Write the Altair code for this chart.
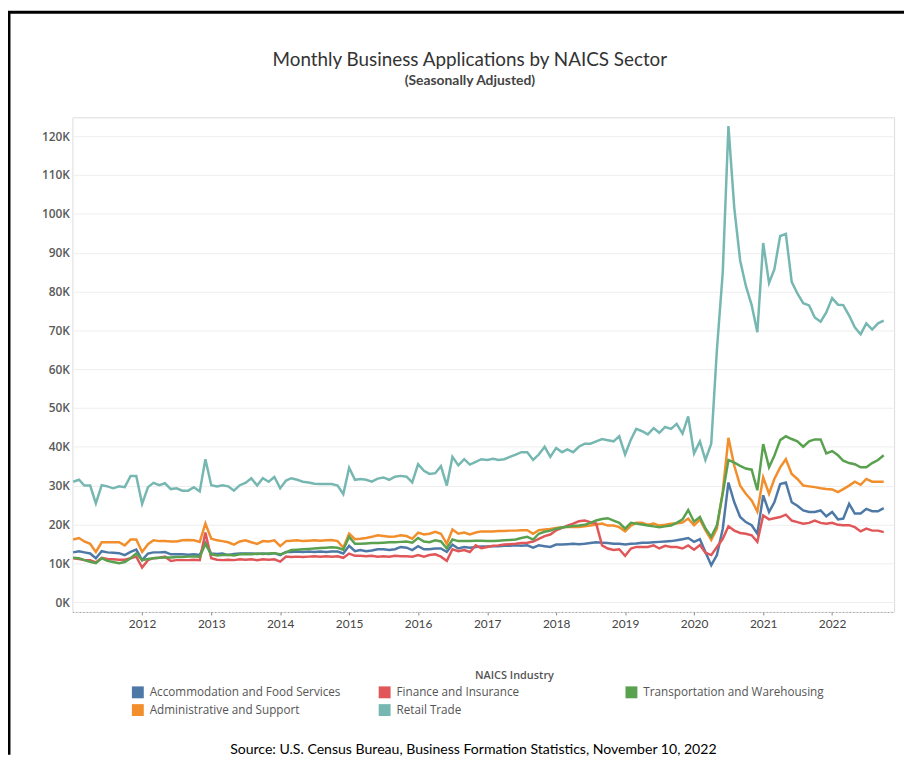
import altair as alt
import pandas as pd

# ---------------- data (thousands of applications, monthly, Jan 2011 - Oct 2022) ----------------
months = pd.date_range("2011-01-01", periods=142, freq="MS")

accommodation = [
    12.8, 13.1, 12.8, 12.5, 11.3, 13.1, 12.8, 12.7, 12.6, 12.1, 12.9, 13.5,
    10.8, 12.5, 12.8, 12.8, 12.9, 12.3, 12.3, 12.3, 12.2, 12.3, 12.1, 15.3,
    12.5, 12.4, 12.5, 12.1, 12.4, 12.5, 12.5, 12.5, 12.4, 12.5, 12.4, 12.6,
    12.1, 12.9, 12.9, 13.0, 12.9, 13.0, 12.9, 13.0, 12.9, 13.0, 13.0, 12.5,
    14.5, 13.1, 13.4, 13.1, 13.3, 13.6, 13.6, 13.4, 13.6, 14.2, 14.0, 13.4,
    14.4, 13.6, 13.6, 13.8, 13.8, 12.9, 14.8, 13.8, 14.2, 14.0, 14.2, 14.3,
    14.3, 14.4, 14.4, 14.5, 14.5, 14.6, 14.5, 14.6, 14.0, 14.6, 14.4, 14.2,
    14.8, 14.8, 14.9, 15.0, 14.9, 15.0, 15.2, 15.4, 15.3, 15.2, 15.0, 15.0,
    14.8, 15.0, 15.1, 15.3, 15.3, 15.4, 15.5, 15.6, 15.7, 15.9, 16.2, 16.5,
    15.5, 16.2, 12.9, 9.5, 12.1, 18.9, 30.8, 25.7, 21.9, 20.6, 19.8, 17.6,
    27.5, 23.2, 25.7, 30.4, 30.8, 25.7, 24.8, 23.6, 23.2, 23.2, 23.6, 22.1,
    23.2, 21.3, 21.5, 25.3, 22.8, 22.8, 24.0, 23.4, 23.4, 24.2,
]

administrative = [
    16.1, 16.5, 15.6, 15.0, 12.9, 15.4, 15.4, 15.4, 15.4, 14.6, 16.1, 16.1,
    12.9, 14.9, 15.9, 15.7, 15.7, 15.6, 15.6, 15.9, 16.0, 15.9, 15.5, 20.2,
    16.3, 15.9, 15.7, 15.4, 14.8, 15.6, 15.9, 15.4, 15.0, 15.7, 15.6, 15.9,
    14.4, 15.7, 15.8, 15.9, 15.7, 15.8, 15.9, 15.8, 15.9, 16.0, 15.7, 14.0,
    17.6, 16.2, 16.3, 16.5, 16.8, 17.2, 17.0, 16.8, 16.9, 17.2, 17.0, 16.3,
    17.9, 17.4, 17.6, 18.1, 17.6, 15.0, 18.7, 17.6, 17.9, 17.4, 17.9, 18.2,
    18.2, 18.2, 18.3, 18.3, 18.4, 18.4, 18.5, 18.5, 17.6, 18.5, 18.7, 18.8,
    19.1, 19.3, 19.3, 19.3, 19.3, 19.5, 19.7, 20.0, 20.2, 19.7, 19.7, 19.3,
    18.2, 19.7, 20.4, 20.4, 19.9, 20.2, 19.7, 19.9, 20.2, 20.3, 20.5, 21.5,
    19.8, 21.2, 18.5, 16.0, 18.9, 28.5, 42.3, 35.1, 30.0, 27.9, 26.2, 23.3,
    32.1, 27.9, 31.7, 34.7, 36.8, 33.0, 31.7, 30.0, 29.8, 29.6, 29.3, 29.1,
    29.0, 28.3, 29.1, 30.0, 31.0, 30.2, 31.7, 31.0, 31.0, 31.0,
]

finance = [
    11.3, 11.1, 10.8, 10.8, 10.2, 11.4, 11.1, 11.0, 10.9, 10.9, 11.3, 11.7,
    8.9, 10.8, 11.3, 11.4, 11.7, 10.6, 10.8, 10.8, 10.8, 10.9, 10.8, 17.9,
    11.3, 10.9, 10.8, 10.9, 10.8, 11.0, 10.9, 11.0, 10.8, 11.0, 10.9, 11.0,
    10.4, 11.7, 11.6, 11.7, 11.6, 11.7, 11.8, 11.7, 11.8, 11.7, 11.8, 11.4,
    12.5, 11.9, 11.9, 11.8, 11.9, 11.7, 11.8, 11.7, 11.9, 11.8, 11.8, 11.7,
    12.1, 11.7, 12.1, 12.3, 11.7, 10.6, 13.6, 13.1, 13.4, 12.9, 14.6, 13.9,
    14.2, 14.5, 14.6, 14.8, 14.9, 15.0, 15.2, 15.3, 15.6, 16.3, 17.0, 17.4,
    18.5, 19.1, 19.7, 20.2, 20.8, 21.0, 20.6, 20.2, 14.6, 13.8, 13.4, 13.6,
    11.9, 13.8, 14.2, 14.2, 14.2, 14.6, 13.8, 14.5, 14.2, 14.2, 13.8, 14.6,
    13.5, 14.7, 12.7, 12.1, 14.2, 16.3, 19.5, 18.4, 17.8, 17.6, 17.2, 15.5,
    22.3, 21.3, 21.6, 21.9, 22.5, 21.0, 20.6, 20.2, 20.4, 21.0, 20.4, 20.2,
    20.4, 19.9, 19.8, 19.8, 19.3, 18.2, 18.9, 18.4, 18.4, 18.0,
]

retail = [
    31.0, 31.5, 30.0, 30.0, 25.4, 30.1, 29.8, 29.3, 29.8, 29.6, 32.5, 32.5,
    25.3, 29.6, 30.7, 30.1, 30.6, 29.1, 29.3, 28.7, 28.7, 29.6, 28.5, 36.8,
    30.1, 29.8, 30.1, 29.8, 28.7, 30.1, 30.7, 31.9, 30.0, 31.9, 31.0, 32.2,
    29.3, 31.3, 31.9, 31.5, 31.0, 30.8, 30.5, 30.4, 30.4, 30.4, 30.0, 27.8,
    34.6, 31.5, 31.7, 31.5, 31.0, 31.8, 32.1, 31.5, 32.3, 32.5, 32.3, 30.8,
    35.5, 33.8, 33.0, 33.2, 35.0, 30.0, 37.4, 35.2, 36.8, 35.4, 36.1, 36.8,
    36.6, 36.9, 36.6, 36.8, 37.4, 38.0, 38.6, 38.6, 36.6, 38.0, 40.0, 37.4,
    39.7, 38.6, 39.3, 38.6, 40.0, 40.8, 40.8, 41.4, 42.0, 41.7, 41.4, 42.7,
    38.0, 41.9, 44.6, 44.0, 43.2, 44.8, 43.6, 45.1, 44.6, 45.9, 43.4, 47.8,
    38.3, 41.4, 36.6, 40.8, 65.0, 85.0, 122.6, 101.5, 88.0, 81.5, 76.5, 69.5,
    92.5, 82.2, 85.7, 94.3, 94.8, 82.5, 79.5, 77.0, 76.4, 73.3, 72.2, 74.6,
    78.3, 76.6, 76.5, 73.8, 70.8, 69.0, 71.8, 70.2, 71.8, 72.5,
]

transportation = [
    11.4, 11.3, 10.8, 10.4, 10.0, 11.3, 10.6, 10.3, 10.0, 10.3, 11.3, 12.5,
    10.8, 11.1, 11.3, 11.4, 11.5, 11.5, 11.6, 11.6, 11.7, 11.8, 11.6, 15.0,
    12.3, 12.0, 12.1, 12.2, 12.0, 12.3, 12.4, 12.3, 12.5, 12.4, 12.5, 12.6,
    12.3, 12.8, 13.4, 13.5, 13.6, 13.7, 13.8, 13.9, 14.0, 14.1, 14.0, 13.5,
    16.8, 15.0, 15.0, 15.1, 15.2, 15.2, 15.3, 15.4, 15.4, 15.5, 15.6, 15.3,
    16.5, 15.6, 15.4, 15.9, 15.6, 13.8, 16.1, 15.7, 15.7, 15.7, 15.8, 15.8,
    15.7, 15.7, 15.8, 15.9, 16.0, 16.1, 16.5, 16.8, 16.1, 17.6, 18.1, 18.4,
    18.9, 19.2, 19.4, 19.6, 19.7, 19.9, 20.4, 21.0, 21.4, 21.6, 21.0, 20.4,
    18.9, 20.4, 20.2, 20.0, 19.7, 19.5, 19.3, 19.5, 19.7, 20.4, 21.3, 23.7,
    20.7, 21.9, 19.0, 16.8, 19.8, 28.0, 36.6, 35.9, 35.1, 34.4, 34.1, 28.8,
    40.7, 34.7, 37.7, 41.7, 42.7, 42.0, 41.4, 40.0, 41.4, 41.9, 41.9, 38.3,
    38.9, 37.8, 36.4, 35.8, 35.5, 34.7, 34.7, 35.8, 36.6, 37.8,
]

series = {
    "Accommodation and Food Services": accommodation,
    "Administrative and Support": administrative,
    "Finance and Insurance": finance,
    "Retail Trade": retail,
    "Transportation and Warehousing": transportation,
}
industries = list(series.keys())
colors = ["#4e79a7", "#f28e2b", "#e15759", "#76b7b2", "#59a14f"]

year_ticks = list(range(2012, 2023))
y_ticks = list(range(0, 120001, 10000))

title_text = "Monthly Business Applications by NAICS Sector"
subtitle_text = "(Seasonally Adjusted)"
legend_title = "NAICS Industry"
source_text = "Source: U.S. Census Bureau, Business Formation Statistics, November 10, 2022"

rows = []
for name, vals in series.items():
    for d, v in zip(months, vals):
        rows.append({"date": d.strftime("%Y-%m-%d"), "industry": name, "value": v * 1000})
df = pd.DataFrame(rows)

# ---------------- chart ----------------
x_enc = alt.X(
    "date:T",
    scale=alt.Scale(domain=[alt.DateTime(year=2010, month=12, date=28),
                            alt.DateTime(year=2022, month=11, date=25)]),
    axis=alt.Axis(
        values=[alt.DateTime(year=y, month=1, date=1) for y in year_ticks],
        format="%Y", grid=False, title=source_text,
        titleX=404, titleY=143, titleAlign="center", titleBaseline="alphabetic",
        titleFont="Lato", titleFontSize=14.2, titleFontWeight="normal", titleColor="#000000",
        domainColor="#9a9a9a", domainDash=[1, 2.5], domainWidth=1,
        tickColor="#888888", tickSize=3, labelPadding=4,
        labelFont="Lato", labelFontSize=12, labelColor="#444444",
    ),
)
y_enc = alt.Y(
    "value:Q",
    scale=alt.Scale(domain=[-2550, 124850], nice=False, zero=False),
    axis=alt.Axis(
        values=y_ticks, labelExpr="datum.value / 1000 + 'K'", title=None,
        orient="left", offset=0,
        domain=False, ticks=False, grid=True, gridColor="#eeeeee", gridWidth=1,
        labelFont="Open Sans", labelFontSize=12, labelFontWeight=600, labelColor="#5a5a5a",
        labelPadding=3, labelAlign="right",
    ),
)
color_scale = alt.Scale(domain=industries, range=colors)

# invisible filled marks (first layer) so the shared colour legend uses filled square swatches
legend_carrier = alt.Chart(df).mark_square(opacity=0, size=1).encode(
    x=x_enc, y=y_enc,
    color=alt.Color(
        "industry:N", scale=color_scale,
        legend=alt.Legend(
            title=None, orient="none", legendX=60, legendY=574, columns=3,
            symbolType="square", symbolSize=144, symbolStrokeWidth=0, symbolOpacity=1,
            labelFont="Open Sans", labelFontSize=11.8, labelColor="#555555", labelOffset=6,
            labelLimit=300, columnPadding=38, rowPadding=5, gridAlign="all",
        ),
    ),
)

lines = alt.Chart(df).mark_line(strokeWidth=2.5).encode(
    x=x_enc, y=y_enc,
    color=alt.Color("industry:N", scale=color_scale),
)

legend_head = alt.Chart(pd.DataFrame({"t": [legend_title]})).mark_text(
    font="Open Sans", fontSize=11, fontWeight=600, color="#555555", align="center", baseline="middle"
).encode(text="t:N", x=alt.value(446), y=alt.value(564))

frame_df = pd.DataFrame({"k": [0]})
top_border = alt.Chart(frame_df).mark_rule(color="black", strokeWidth=3).encode(
    x=alt.value(-65), x2=alt.value(839), y=alt.value(-106)
)
left_border = alt.Chart(frame_df).mark_rule(color="black", strokeWidth=3).encode(
    x=alt.value(-64), y=alt.value(-107), y2=alt.value(643)
)

chart = alt.layer(legend_carrier, lines, legend_head, top_border, left_border).properties(
    width=829, height=499,
    title=alt.TitleParams(
        text=title_text, subtitle=subtitle_text,
        anchor="middle", frame="group", dx=-13.5, offset=-79,
        font="Lato", fontSize=19, fontWeight="normal", color="#333333",
        subtitleFont="Lato", subtitleFontSize=14, subtitleFontWeight="bold",
        subtitleColor="#444444", subtitlePadding=4,
    ),
    autosize=alt.AutoSizeParams(type="none"),
    padding={"left": 65, "top": 107, "right": 10, "bottom": 144},
).configure_view(stroke=None).configure(background="white")

chart.save("out.html", embed_options={"renderer": "svg", "actions": False})
